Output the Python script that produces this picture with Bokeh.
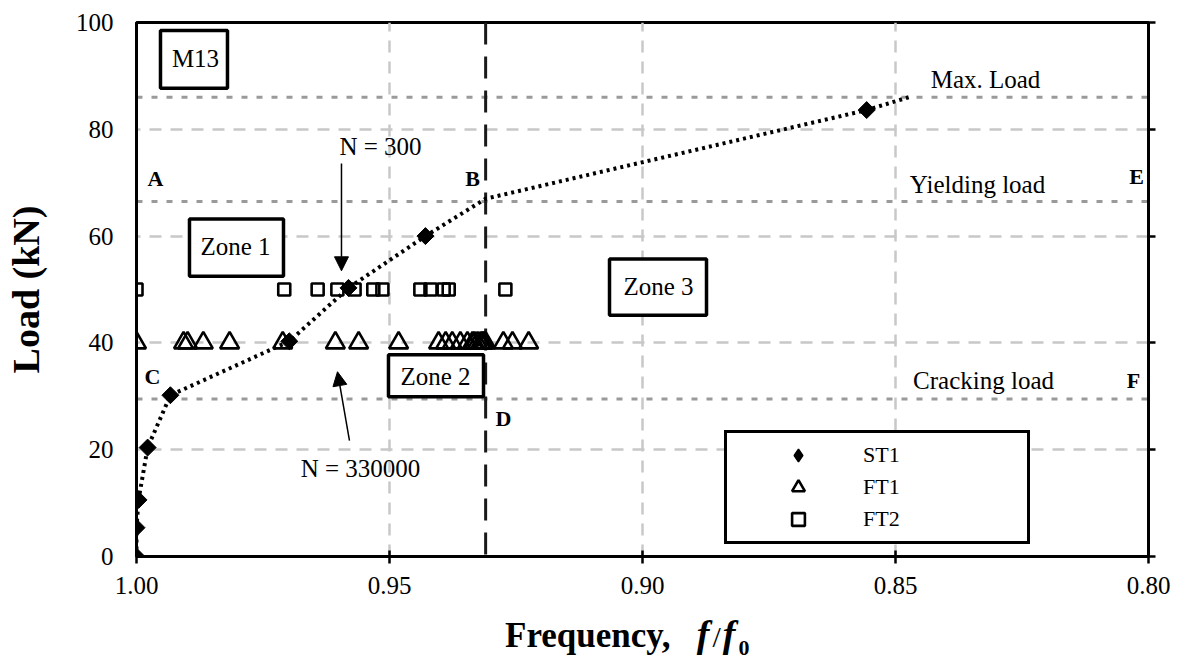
from bokeh.plotting import figure
from bokeh.layouts import column
from bokeh.models import (Range1d, FixedTicker, PrintfTickFormatter, LinearAxis, Span, Label,
                          BoxAnnotation, Arrow, NormalHead, Legend, LegendItem, Div)
from bokeh.embed import file_html
from bokeh.resources import INLINE
import numpy as np

# ---------------- data ----------------
st1_x = [1.000, 1.000, 0.9996, 0.9978, 0.9933, 0.9698, 0.9581, 0.9429, 0.8557]
st1_y = [0.0, 5.4, 10.6, 20.4, 30.2, 40.3, 50.3, 60.0, 83.6]

ft1_x = [1.000, 0.9907, 0.9899, 0.9868, 0.9816, 0.9711, 0.9607, 0.9561, 0.9482,
         0.9403, 0.9389, 0.9376, 0.9360, 0.9346, 0.9336, 0.9332, 0.9326, 0.9320,
         0.9316, 0.9314, 0.9310, 0.9275, 0.9257, 0.9225]
ft1_y = [40.0] * len(ft1_x)

ft2_x = [1.000, 0.9708, 0.9642, 0.9603, 0.9569, 0.9532, 0.9514, 0.9439, 0.9419,
         0.9393, 0.9383, 0.9271]
ft2_y = [50.0] * len(ft2_x)

trend_x = [1.000, 1.000, 0.9996, 0.9978, 0.9933, 0.9698, 0.9581, 0.9429, 0.9310, 0.8557, 0.8474]
trend_y = [0.0, 5.4, 10.6, 20.4, 30.2, 40.3, 50.3, 60.0, 67.0, 83.6, 86.0]

x_ticks = [1.00, 0.95, 0.90, 0.85, 0.80]
y_ticks = [0, 20, 40, 60, 80, 100]

max_load = 86.0
yield_load = 66.5
crack_load = 29.5
f_yield = 0.931

FONT = "Liberation Serif"

# ---------------- figure ----------------
p = figure(width=1173, height=602, output_backend="svg", toolbar_location=None,
           x_range=Range1d(1.0, 0.8), y_range=Range1d(0, 100),
           min_border_left=136, min_border_right=25, min_border_top=22, min_border_bottom=46)
p.background_fill_color = "white"
p.border_fill_color = "white"
p.outline_line_color = "black"
p.outline_line_width = 3

# grid
p.xgrid.ticker = FixedTicker(ticks=[0.95, 0.90, 0.85])
p.ygrid.ticker = FixedTicker(ticks=[20, 40, 60, 80])
for g in (p.xgrid, p.ygrid):
    g.grid_line_color = "#c8c8c8"
    g.grid_line_width = 2.5
    g.grid_line_dash = "12 9"

# axes
xa = p.xaxis[0]
xa.ticker = FixedTicker(ticks=x_ticks)
xa.formatter = PrintfTickFormatter(format="%.2f")
ya = p.yaxis[0]
ya.ticker = FixedTicker(ticks=y_ticks)
for ax in (xa, ya):
    ax.axis_line_width = 3
    ax.major_tick_line_width = 2.5
    ax.minor_tick_in = 0
    ax.minor_tick_out = 0
    ax.major_label_text_font = FONT
    ax.major_label_text_font_size = "25px"
    ax.major_label_text_color = "black"
xa.major_tick_in = 6
xa.major_tick_out = 7
xa.major_label_standoff = 13
ya.major_tick_in = 0
ya.major_tick_out = 0
ya.major_label_standoff = 23
ya.axis_label = "Load (kN)"
ya.axis_label_text_font = FONT
ya.axis_label_text_font_style = "bold"
ya.axis_label_text_font_size = "38px"
ya.axis_label_text_color = "black"
ya.axis_label_standoff = 26

ra = LinearAxis(ticker=FixedTicker(ticks=y_ticks), axis_line_width=3, major_tick_line_width=2.5,
                major_tick_in=0, major_tick_out=7, minor_tick_in=0, minor_tick_out=0,
                major_label_standoff=0, major_label_text_font_size="0px",
                major_label_overrides={t: "" for t in y_ticks})
p.add_layout(ra, "right")

# reference lines
for loc in (max_load, yield_load, crack_load):
    p.add_layout(Span(location=loc, dimension="width", line_color="#9a9a9a", line_width=3,
                      line_dash="6 9", level="underlay"))
p.add_layout(Span(location=f_yield, dimension="height", line_color="#1a1a1a", line_width=3,
                  line_dash="22 12", level="underlay"))

# trend line
p.line(trend_x, trend_y, line_color="black", line_width=4, line_dash="3 4")

# markers
r_ft1 = p.scatter(ft1_x, ft1_y, marker="triangle", size=19, line_color="black", line_width=2.6,
                  fill_alpha=0)
r_ft2 = p.scatter(ft2_x, ft2_y, marker="square", size=12, line_color="black", line_width=2.6,
                  fill_color="white", fill_alpha=0)
r_st1 = p.scatter(st1_x, st1_y, marker="square", angle=np.pi / 4, size=12, line_color="black",
                  fill_color="black")
# legend key for ST1 (legend glyphs are drawn unrotated); its single point is NaN, so not drawn
r_st1_key = p.scatter(x=[np.nan], y=[np.nan], marker="diamond", size=12,
                      line_color="black", line_width=1.5, fill_color="black")

# boxes
def box(l, r, t, b):
    p.add_layout(BoxAnnotation(left=l, right=r, top=t, bottom=b, fill_color="white", fill_alpha=1,
                               line_color="black", line_width=3.5, line_alpha=1))

box(0.99526, 0.98202, 98.5, 87.7)   # M13
box(0.98953, 0.97095, 63.2, 52.5)   # Zone 1
box(0.95020, 0.93142, 37.8, 29.9)   # Zone 2
box(0.90652, 0.88735, 55.7, 45.2)   # Zone 3

def lab(x, y, t, size="25px", style="normal", align="center", baseline="middle"):
    p.add_layout(Label(x=x, y=y, text=t, text_align=align, text_baseline=baseline,
                       text_font=FONT, text_font_size=size, text_font_style=style,
                       text_color="black"))

lab(0.98834, 93.3, "M13")
lab(0.98043, 58.0, "Zone 1")
lab(0.94090, 33.8, "Zone 2")
lab(0.89684, 50.6, "Zone 3")
lab(0.83221, 89.3, "Max. Load")
lab(0.83380, 69.7, "Yielding load")
lab(0.83260, 32.9, "Cracking load")
lab(0.95178, 76.8, "N = 300")
lab(0.95573, 16.4, "N = 330000")
for x, y, t in [(0.99625, 70.8, "A"), (0.93360, 70.7, "B"), (0.99684, 33.8, "C"),
                (0.92747, 25.8, "D"), (0.80237, 71.2, "E"), (0.80296, 32.9, "F")]:
    lab(x, y, t, size="22px", style="bold")

# arrows
p.add_layout(Arrow(end=NormalHead(size=14, fill_color="black", line_color="black", line_width=1),
                   x_start=0.95949, y_start=73.6, x_end=0.95949, y_end=53.5,
                   line_color="black", line_width=1.5))
p.add_layout(Arrow(end=NormalHead(size=14, fill_color="black", line_color="black", line_width=1),
                   x_start=0.95791, y_start=21.7, x_end=0.96028, y_end=34.6,
                   line_color="black", line_width=1.5))

# legend
legend = Legend(items=[LegendItem(label="ST1", renderers=[r_st1_key]),
                       LegendItem(label="FT1", renderers=[r_ft1]),
                       LegendItem(label="FT2", renderers=[r_ft2])],
                location=(588, 12), padding=6, spacing=0, margin=0,
                glyph_width=130, glyph_height=32, label_height=32, label_width=158,
                label_standoff=0, border_line_color="black", border_line_width=3,
                border_line_alpha=1, background_fill_color="white", background_fill_alpha=1,
                label_text_font=FONT, label_text_font_size="22px", label_text_color="black")
p.add_layout(legend)

# x-axis title (HTML so that f is italic and 0 is a subscript)
xtitle = Div(text='<span style="font-family:\'Liberation Serif\';font-weight:bold;font-size:35px;'
                  'color:black;white-space:nowrap">Frequency,&nbsp;&nbsp;&nbsp;'
                  '<i style="font-size:38px">f</i>'
                  '<span style="font-weight:normal;font-size:30px;margin:0 2px 0 3px">/</span>'
                  '<i style="font-size:38px">f</i>'
                  '<sub style="font-size:22px;margin-left:3px">0</sub></span>',
             width=1173, height=51, margin=0,
             styles={"padding-left": "505px", "padding-top": "15px", "line-height": "35px"})

layout = column(p, xtitle, spacing=0)
open("out.html", "w").write(file_html(layout, INLINE))
